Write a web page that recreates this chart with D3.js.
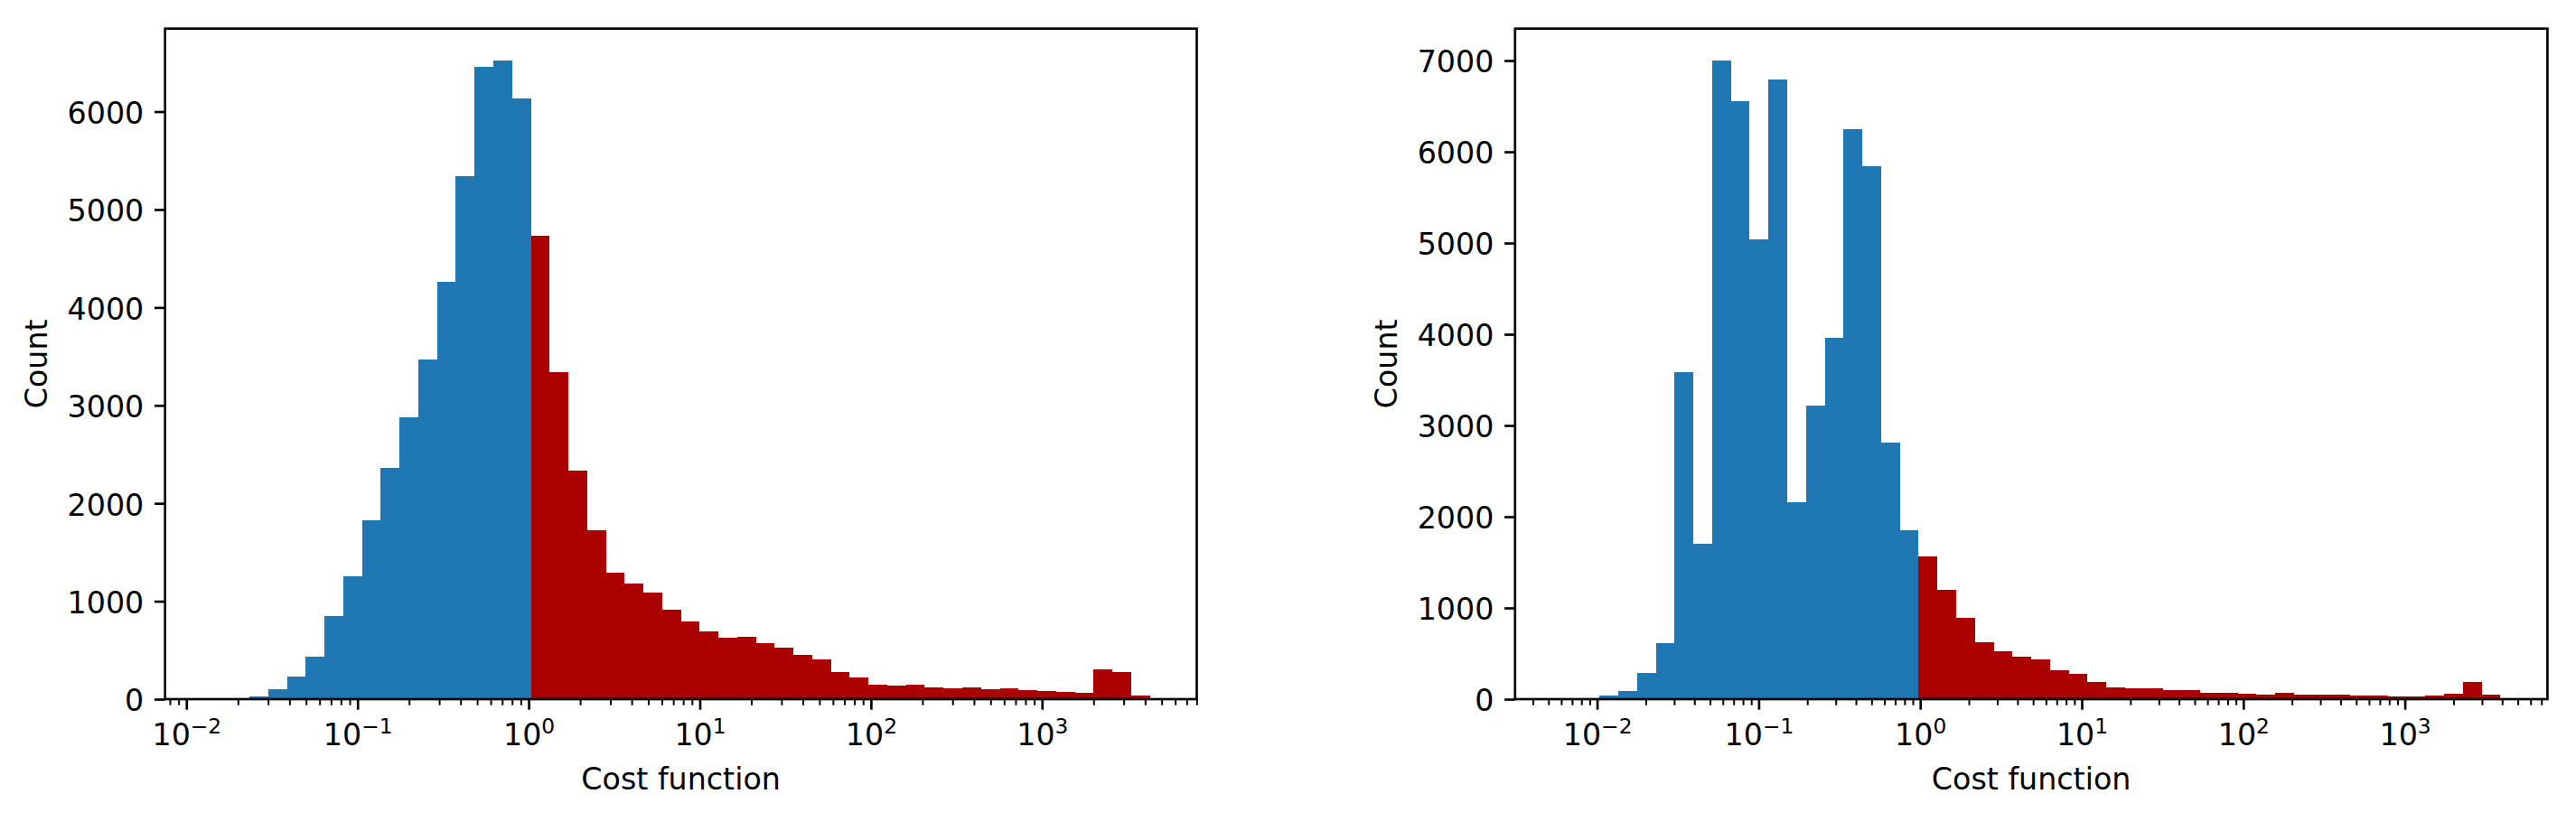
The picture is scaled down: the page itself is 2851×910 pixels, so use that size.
<!DOCTYPE html>
<html>
<head>
<meta charset="utf-8">
<script src="https://cdn.jsdelivr.net/npm/d3@7"></script>
<style>
  html, body { margin: 0; padding: 0; background: #ffffff; }
  svg { display: block; }
</style>
</head>
<body>
<svg id="chart" width="2851" height="910"></svg>
<script>
// ---------------- DATA ----------------
// Histogram counts (50 log-spaced bins each)
const leftCounts = [
  1, 2, 25, 100, 232, 430, 852, 1258, 1826, 2362, 2877, 3465, 4258, 5345, 6458, 6521, 6135,
  4736, 3338, 2335, 1724, 1291, 1182, 1088, 914, 791, 691, 627, 636, 571, 525, 452, 406,
  276, 221, 147, 138, 147, 120, 111, 120, 101, 111, 92, 83, 74, 65, 304, 276, 37
];
const rightCounts = [
  1, 2, 35, 90, 286, 612, 3586, 1706, 7000, 6554, 5040, 6788, 2163, 3220, 3961, 6248, 5841,
  2817, 1855, 1561, 1202, 894, 621, 524, 464, 435, 316, 277, 188, 128, 119, 119, 99, 99,
  69, 69, 59, 49, 69, 49, 49, 49, 40, 40, 30, 30, 40, 59, 192, 50
];
// log10 of first and last bin edge (bins are log-spaced)
const leftLogRange = [-1.8506, 3.6299];
const rightLogRange = [-2.2173, 3.5921];
// tick values
const leftYTicks = [0, 1000, 2000, 3000, 4000, 5000, 6000];
const rightYTicks = [0, 1000, 2000, 3000, 4000, 5000, 6000, 7000];
const xMajorExponents = [-3, -2, -1, 0, 1, 2, 3, 4];
const xMinorMultipliers = [2, 3, 4, 5, 6, 7, 8, 9];
const xLabelText = "Cost function";
const yLabelText = "Count";
const splitValue = 1;   // bins below 1 are blue, above are red
const colorBelow = "#1f77b4";
const colorAbove = "#aa0000";

// ---------------- LAYOUT ----------------
const FONT = "DejaVu Sans";
const FS = 33.3;
const panels = [
  { counts: leftCounts, logRange: leftLogRange, yTicks: leftYTicks, box: { x: 182.7, y: 31.7, w: 1141.8, h: 742.3 } },
  { counts: rightCounts, logRange: rightLogRange, yTicks: rightYTicks, box: { x: 1676.8, y: 31.7, w: 1142.6, h: 742.3 } }
];

const svg = d3.select("#chart");
svg.append("rect").attr("width", 2851).attr("height", 910).attr("fill", "#fff");

panels.forEach(p => {
  const b = p.box;
  const n = p.counts.length;
  const [lo, hi] = p.logRange;
  const step = (hi - lo) / n;
  const bins = p.counts.map((c, i) => ({
    x0: Math.pow(10, lo + i * step),
    x1: Math.pow(10, lo + (i + 1) * step),
    count: c
  }));
  const margin = 0.05 * (hi - lo);
  const x = d3.scaleLog()
    .domain([Math.pow(10, lo - margin), Math.pow(10, hi + margin)])
    .range([b.x, b.x + b.w]);
  const yMax = d3.max(p.counts) * 1.05;
  const y = d3.scaleLinear().domain([0, yMax]).range([b.y + b.h, b.y]);

  const g = svg.append("g");

  // bars
  g.append("g").selectAll("rect")
    .data(bins.filter(d => d.count > 0))
    .join("rect")
    .attr("x", d => x(d.x0))
    .attr("width", d => x(d.x1) - x(d.x0))
    .attr("y", d => y(d.count))
    .attr("height", d => y(0) - y(d.count))
    .attr("fill", d => Math.sqrt(d.x0 * d.x1) < splitValue ? colorBelow : colorAbove)
    .attr("shape-rendering", "crispEdges");

  // y axis
  const yAxis = d3.axisLeft(y).tickValues(p.yTicks).tickSize(11.7).tickPadding(11.7)
    .tickFormat(d3.format("d"));
  const gy = g.append("g").attr("transform", `translate(${b.x},0)`).call(yAxis);
  gy.select(".domain").remove();
  gy.selectAll(".tick line").attr("stroke", "#000").attr("stroke-width", 2.67);
  gy.selectAll(".tick text")
    .attr("font-family", FONT).attr("font-size", FS).attr("fill", "#000")
    .attr("dy", "0.385em");

  // x axis major ticks
  const [dmin, dmax] = x.domain();
  const majors = xMajorExponents.map(e => Math.pow(10, e)).filter(v => v >= dmin && v <= dmax);
  const minors = [];
  xMajorExponents.forEach(e => xMinorMultipliers.forEach(m => {
    const v = m * Math.pow(10, e);
    if (v >= dmin && v <= dmax) minors.push(v);
  }));

  const xMinorAxis = d3.axisBottom(x).tickValues(minors).tickSize(6.7).tickFormat("");
  const gxm = g.append("g").attr("transform", `translate(0,${b.y + b.h})`).call(xMinorAxis);
  gxm.select(".domain").remove();
  gxm.selectAll(".tick line").attr("stroke", "#000").attr("stroke-width", 2);

  const xAxis = d3.axisBottom(x).tickValues(majors).tickSize(11.7).tickPadding(11.7).tickFormat("");
  const gx = g.append("g").attr("transform", `translate(0,${b.y + b.h})`).call(xAxis);
  gx.select(".domain").remove();
  gx.selectAll(".tick line").attr("stroke", "#000").attr("stroke-width", 2.67);
  gx.selectAll(".tick text").remove();
  gx.selectAll(".tick").each(function(d) {
    const e = Math.round(Math.log10(d));
    const t = d3.select(this).append("text")
      .attr("y", 51).attr("dy", 0)
      .attr("text-anchor", "middle")
      .attr("font-family", FONT).attr("font-size", FS).attr("fill", "#000");
    t.append("tspan").text("10");
    t.append("tspan").attr("font-size", FS * 0.7).attr("dy", -13)
      .text(e < 0 ? "\u2212" + Math.abs(e) : String(e));
  });

  // spines (drawn above bars)
  g.append("rect")
    .attr("x", b.x).attr("y", b.y).attr("width", b.w).attr("height", b.h)
    .attr("fill", "none").attr("stroke", "#000").attr("stroke-width", 2.67);

  // axis labels
  g.append("text")
    .attr("x", b.x + b.w / 2).attr("y", 874)
    .attr("text-anchor", "middle")
    .attr("font-family", FONT).attr("font-size", FS).attr("fill", "#000")
    .text(xLabelText);
  g.append("text")
    .attr("transform", `translate(${b.x - 130.5},${b.y + b.h / 2}) rotate(-90)`)
    .attr("text-anchor", "middle")
    .attr("font-family", FONT).attr("font-size", FS).attr("fill", "#000")
    .text(yLabelText);
});
</script>
</body>
</html>
